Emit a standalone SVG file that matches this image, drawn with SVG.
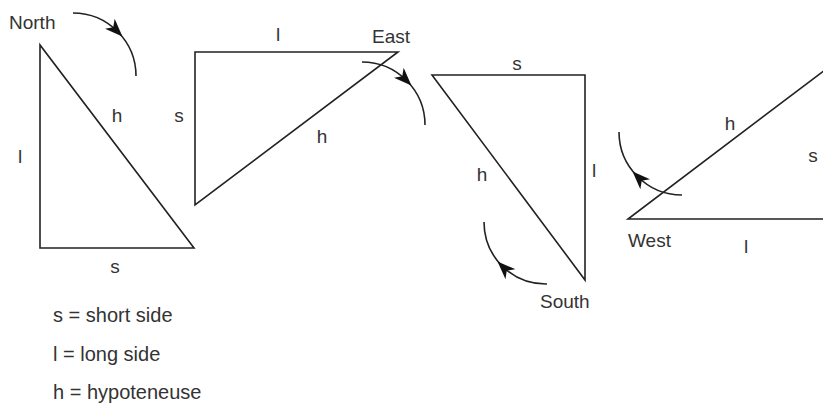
<svg xmlns="http://www.w3.org/2000/svg" width="823" height="403" viewBox="0 0 823 403">
<style>
.tri{fill:none;stroke:#222;stroke-width:1.6;stroke-linejoin:miter}
.arc{fill:none;stroke:#222;stroke-width:1.6;marker-mid:url(#ah)}
text{font-family:"Liberation Sans",Arial,sans-serif;font-size:19px;fill:#333}
.lbl{text-anchor:middle}
.leg{font-size:20px}
</style>
<defs>
<marker id="ah" viewBox="0 0 18 14" markerWidth="18" markerHeight="14" refX="11" refY="7" orient="auto" markerUnits="userSpaceOnUse">
<path d="M0,0 L18,7 L0,14 L5,7 z" fill="#111"/>
</marker>
</defs>
<rect width="823" height="403" fill="#fff"/>
<g id="north">
<polygon class="tri" points="40,45 40,248 194,248"/>
<text x="9" y="29">North</text>
<text class="lbl" x="117" y="122">h</text>
<text class="lbl" x="20" y="163">l</text>
<text class="lbl" x="115" y="273">s</text>
</g>
<g id="east">
<polygon class="tri" points="195,52 398,52 195,205"/>
<text x="372" y="43">East</text>
<text class="lbl" x="278" y="41">l</text>
<text class="lbl" x="179" y="122">s</text>
<text class="lbl" x="322" y="143">h</text>
</g>
<g id="south">
<polygon class="tri" points="432,75 585,75 585,280"/>
<text x="540" y="308">South</text>
<text class="lbl" x="517" y="70">s</text>
<text class="lbl" x="482" y="181">h</text>
<text class="lbl" x="594" y="177">l</text>
</g>
<g id="west">
<polygon class="tri" points="628,219 850,219 850,51"/>
<text x="628" y="247">West</text>
<text class="lbl" x="730" y="130">h</text>
<text class="lbl" x="813" y="162">s</text>
<text class="lbl" x="746" y="253">l</text>
</g>
<g id="connectors">
<path class="arc" d="M73,13 A63,63 0 0 1 117.5,31.5 A63,63 0 0 1 136,76"/>
<path class="arc" d="M362,62 A63,63 0 0 1 406.5,80.5 A63,63 0 0 1 425,125"/>
<path class="arc" d="M547,284 A63,63 0 0 1 502.5,266.5 A63,63 0 0 1 484,222"/>
<path class="arc" d="M682,195 A63,63 0 0 1 637.5,176.5 A63,63 0 0 1 619,132"/>
</g>
<g id="legend">
<text class="leg" x="53" y="322">s = short side</text>
<text class="leg" x="53" y="361">l = long side</text>
<text class="leg" x="53" y="399">h = hypoteneuse</text>
</g>
</svg>
